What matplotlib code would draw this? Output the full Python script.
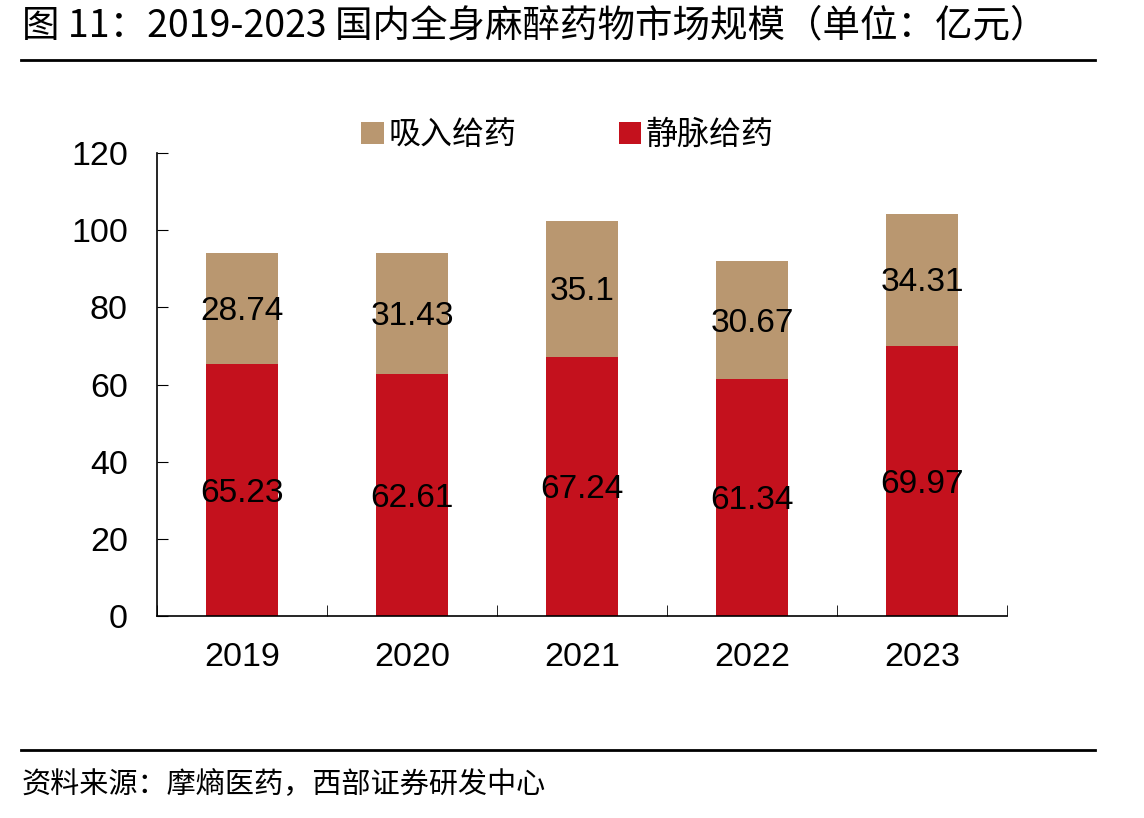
import numpy as np
import matplotlib.pyplot as plt
from matplotlib.lines import Line2D

plt.rcParams['font.family'] = ['Liberation Sans', 'Noto Sans CJK SC', 'DejaVu Sans']

years = ['2019', '2020', '2021', '2022', '2023']
iv = [65.23, 62.61, 67.24, 61.34, 69.97]       # 静脉给药
inhaled = [28.74, 31.43, 35.1, 30.67, 34.31]   # 吸入给药
iv_labels = ['65.23', '62.61', '67.24', '61.34', '69.97']
inh_labels = ['28.74', '31.43', '35.1', '30.67', '34.31']

red = '#C4111D'
tan = '#B99770'
cjk = ['Noto Sans CJK SC', 'DejaVu Sans']

fig = plt.figure(figsize=(11.44, 8.18), dpi=100)
ax = fig.add_axes([0.1372, 0.2469, 0.743, 0.5661])

x = np.arange(len(years))
b1 = ax.bar(x, iv, width=0.42, color=red, label='静脉给药')
b2 = ax.bar(x, inhaled, width=0.42, bottom=iv, color=tan, label='吸入给药')

for i in range(len(years)):
    ax.text(x[i], iv[i] / 2 - 0.8, iv_labels[i], ha='center', va='center', fontsize=24)
    ax.text(x[i], iv[i] + inhaled[i] / 2 - 0.8, inh_labels[i], ha='center', va='center', fontsize=24)

ax.set_xlim(-0.5, len(years) - 0.5)
ax.set_ylim(0, 120)
ax.set_yticks(range(0, 121, 20))
ax.tick_params(axis='y', direction='in', length=8, labelsize=24.5, pad=21)
ax.set_xticks(x)
ax.set_xticklabels(years)
ax.set_xticks(np.arange(-0.5, len(years)), minor=True)
ax.tick_params(axis='x', which='major', length=0, labelsize=24.5, pad=19)
ax.tick_params(axis='x', which='minor', direction='in', length=8)
for s in ['top', 'right']:
    ax.spines[s].set_visible(False)
for s in ['left', 'bottom']:
    ax.spines[s].set_linewidth(1.2)

handles = [b2, b1]
leg = fig.legend(handles, ['吸入给药', '静脉给药'], loc='center', bbox_to_anchor=(0.496, 0.835),
                 ncol=2, frameon=False, prop={'family': cjk, 'size': 23},
                 handlelength=0.7, handleheight=0.7, handletextpad=0.15, columnspacing=3.2)

fig.text(0.019, 0.968, '图 11：2019-2023 国内全身麻醉药物市场规模（单位：亿元）',
         fontsize=27, va='center', ha='left', family=cjk)
fig.add_artist(Line2D([0.018, 0.957], [0.927, 0.927], color='black', lw=2))
fig.add_artist(Line2D([0.018, 0.957], [0.083, 0.083], color='black', lw=2))
fig.text(0.019, 0.040, '资料来源：摩熵医药，西部证券研发中心', fontsize=21, va='center', ha='left', family=cjk)

fig.savefig('out.png', dpi=100)
